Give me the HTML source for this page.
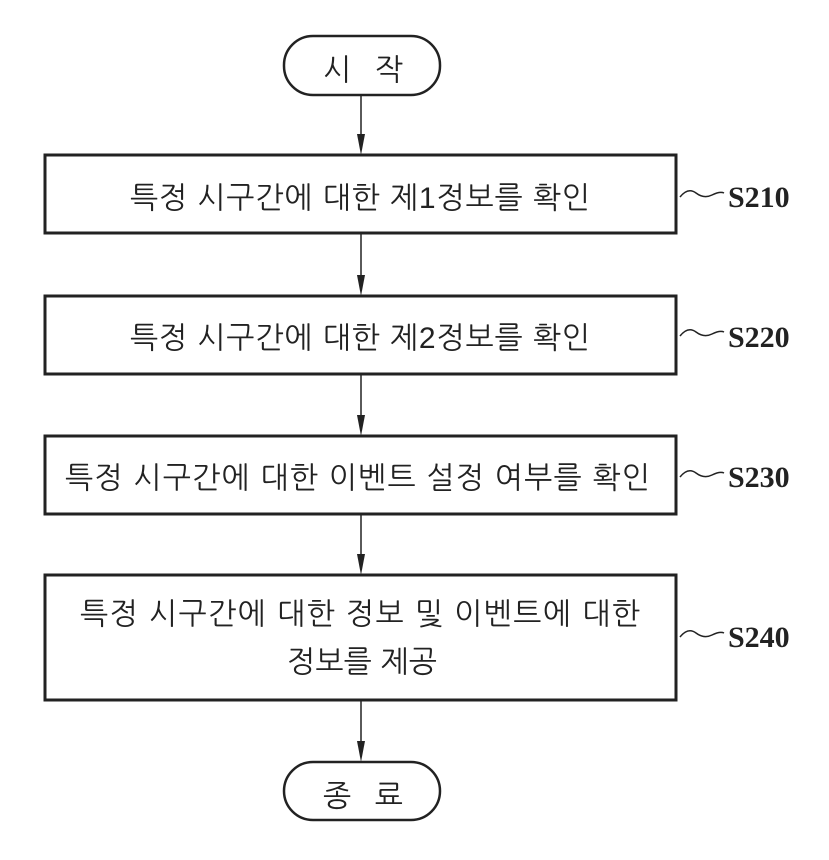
<!DOCTYPE html>
<html><head><meta charset="utf-8"><style>
body{margin:0;background:#fff;}
svg text{fill:#222;}
.k{font-family:"Liberation Sans","NanumGothic","Noto Sans CJK KR",sans-serif;font-size:30px;}
.s{font-size:30px;font-family:"Liberation Serif",serif;font-weight:bold;}
</style></head><body>
<svg width="829" height="855" viewBox="0 0 829 855" xmlns="http://www.w3.org/2000/svg">
<g stroke="#222" fill="none">
<rect x="284" y="36" width="156" height="59" rx="29" stroke-width="2.5"/>
<rect x="45" y="155" width="631" height="78" stroke-width="3"/>
<rect x="45" y="296" width="631" height="78" stroke-width="3"/>
<rect x="45" y="436" width="631" height="78" stroke-width="3"/>
<rect x="45" y="575" width="631" height="125" stroke-width="3"/>
<rect x="284" y="762" width="156" height="58" rx="29" stroke-width="2.5"/>
<g stroke-width="1.5">
<line x1="361" y1="95" x2="361" y2="150"/>
<line x1="361" y1="233" x2="361" y2="291"/>
<line x1="361" y1="374" x2="361" y2="431"/>
<line x1="361" y1="514" x2="361" y2="570"/>
<line x1="361" y1="700" x2="361" y2="757"/>
</g>
<g stroke-width="1.5">
<path d="M680,197 q8,-10 16,-4 t16,2 t12,-2"/>
<path d="M680,336 q8,-10 16,-4 t16,2 t12,-2"/>
<path d="M680,477 q8,-10 16,-4 t16,2 t12,-2"/>
<path d="M680,637 q8,-10 16,-4 t16,2 t12,-2"/>
</g>
</g>
<g fill="#222">
<path d="M357,134 L365,134 L361,155 Z"/>
<path d="M357,275 L365,275 L361,296 Z"/>
<path d="M357,415 L365,415 L361,436 Z"/>
<path d="M357,554 L365,554 L361,575 Z"/>
<path d="M357,741 L365,741 L361,762 Z"/>
</g>
<text class="k" x="323" y="80" textLength="80" lengthAdjust="spacing">시 작</text>
<text class="k" x="130" y="208" textLength="460" lengthAdjust="spacing">특정 시구간에 대한 제1정보를 확인</text>
<text class="k" x="130" y="348" textLength="460" lengthAdjust="spacing">특정 시구간에 대한 제2정보를 확인</text>
<text class="k" x="65" y="488" textLength="585" lengthAdjust="spacing">특정 시구간에 대한 이벤트 설정 여부를 확인</text>
<text class="k" x="80" y="624" textLength="560" lengthAdjust="spacing">특정 시구간에 대한 정보 및 이벤트에 대한</text>
<text class="k" x="287" y="672" textLength="150" lengthAdjust="spacing">정보를 제공</text>
<text class="k" x="323" y="806" textLength="80" lengthAdjust="spacing">종 료</text>
<text class="s" x="728" y="207">S210</text>
<text class="s" x="728" y="347">S220</text>
<text class="s" x="728" y="487">S230</text>
<text class="s" x="728" y="647">S240</text>
</svg>
</body></html>
